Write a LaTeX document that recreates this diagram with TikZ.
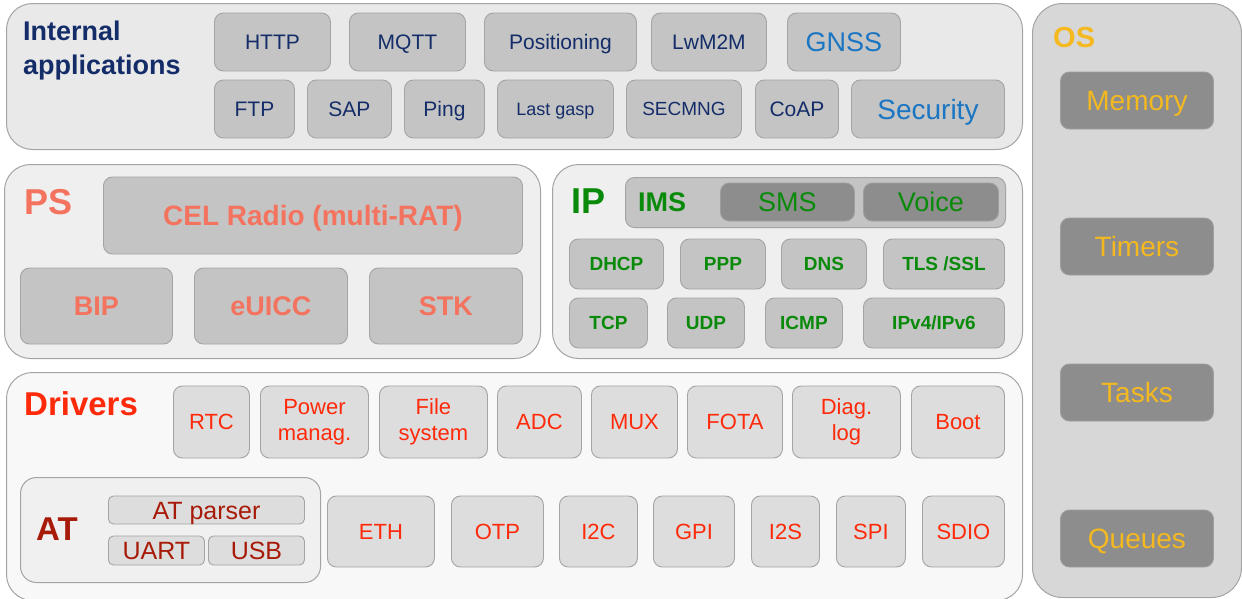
\documentclass[tikz,border=0pt]{standalone}
\usepackage{fontspec}
\setmainfont{Liberation Sans}
\usepackage{xcolor}
\usetikzlibrary{positioning}
\definecolor{navy}{HTML}{142D69}
\definecolor{gblue}{HTML}{1A75C2}
\definecolor{salmon}{HTML}{F4735F}
\definecolor{ipgreen}{HTML}{0A8A0A}
\definecolor{drvred}{HTML}{FF2A0A}
\definecolor{atred}{HTML}{A81A08}
\definecolor{osyel}{HTML}{F5B920}
\definecolor{edgegray}{HTML}{A4A4A4}
\definecolor{appbg}{HTML}{E9E9E9}
\definecolor{psbg}{HTML}{EFEFEF}
\definecolor{drvbg}{HTML}{F8F8F8}
\definecolor{atbg}{HTML}{F0F0F0}
\definecolor{osbg}{HTML}{D7D7D7}
\definecolor{midfill}{HTML}{C4C4C4}
\definecolor{lightfill}{HTML}{DDDDDD}
\definecolor{darkfill}{HTML}{8D8D8D}
\tikzset{
  grp/.style={draw=edgegray,line width=1pt,rounded corners=26pt,inner sep=0pt,anchor=north west},
  blk/.style={draw=edgegray,line width=0.9pt,rounded corners=9pt,inner sep=0pt,align=center,anchor=west},
  capht/.style={text height=#1,text depth=0pt},
  ttl/.style={anchor=base west,inner sep=0pt},
}
\begin{document}
\begin{tikzpicture}[x=1pt,y=-1pt,
   appbk/.style={blk,capht=15pt,fill=midfill,minimum height=58pt,text=navy,font=\fontsize{21}{25}\selectfont},
   psbk/.style={blk,capht=19.5pt,fill=midfill,text=salmon,font=\bfseries\fontsize{27}{30}\selectfont},
   ipbk/.style={blk,capht=13.6pt,fill=midfill,minimum height=50pt,text=ipgreen,font=\bfseries\fontsize{19}{22}\selectfont},
   drvbk/.style={blk,fill=lightfill,text=drvred,font=\fontsize{22}{26}\selectfont},
   atbk/.style={blk,capht=18pt,fill=lightfill,rounded corners=5pt,text=atred,font=\fontsize{25}{27}\selectfont},
   osbk/.style={blk,capht=20pt,fill=darkfill,draw=darkfill!85!white,minimum width=153pt,minimum height=57pt,text=osyel,font=\fontsize{28}{30}\selectfont}]
  \useasboundingbox (0,0) rectangle (1242,598);
  \node[grp,fill=appbg,minimum width=1016pt,minimum height=146pt] (apps) at (6,3) {};
  \node[ttl,anchor=north west,align=left,text=navy,font=\bfseries\fontsize{27}{34}\selectfont] (appsttl) at (23,21) {Internal\\applications};
  \foreach \x/\w/\n/\t in {214/116/http/HTTP,349/116/mqtt/MQTT,484/152/posn/Positioning,651/115/lwm/LwM2M}
    \node[appbk,minimum width=\w pt] (\n) at (\x,42) {\t};
  \node[appbk,capht=19.5pt,minimum width=113pt,text=gblue,font=\fontsize{27}{30}\selectfont] (gnss) at (787,42) {GNSS};
  \foreach \x/\w/\n/\t in {214/80/ftp/FTP,307/84/sap/SAP,404/80/ping/Ping,755/83/coap/CoAP}
    \node[appbk,minimum width=\w pt] (\n) at (\x,109) {\t};
  \node[appbk,capht=13pt,minimum width=116pt,font=\fontsize{18}{22}\selectfont] (lgasp) at (497,109) {Last gasp};
  \node[appbk,capht=13.6pt,minimum width=115pt,font=\fontsize{19}{22}\selectfont] (secmng) at (626,109) {SECMNG};
  \node[appbk,capht=20pt,minimum width=153pt,text=gblue,font=\fontsize{28}{30}\selectfont] (secur) at (851,109) {Security};

  \node[grp,fill=psbg,minimum width=536pt,minimum height=194pt] (ps) at (4,164) {};
  \node[ttl,text=salmon,font=\bfseries\fontsize{36}{40}\selectfont] (psttl) at (24,214) {PS};
  \node[psbk,capht=20pt,minimum width=419pt,minimum height=77pt,font=\bfseries\fontsize{28}{30}\selectfont] (celr) at (103,215.5) {CEL Radio (multi-RAT)};
  \foreach \x/\w/\n/\t in {20/152/bip/BIP,194/153/euicc/eUICC,369/153/stk/STK}
    \node[psbk,minimum width=\w pt,minimum height=76pt] (\n) at (\x,306) {\t};

  \node[grp,fill=psbg,minimum width=470pt,minimum height=194pt] (ip) at (552,164) {};
  \node[ttl,text=ipgreen,font=\bfseries\fontsize{36}{40}\selectfont] (ipttl) at (571,213) {IP};
  \node[grp,fill=midfill,rounded corners=9pt,minimum width=380pt,minimum height=50pt] (ims) at (625,177) {};
  \node[ttl,text=ipgreen,font=\bfseries\fontsize{27}{30}\selectfont] (imsttl) at (638,211) {IMS};
  \node[ipbk,capht=19.5pt,fill=darkfill,draw=darkfill!85!white,minimum width=134pt,minimum height=38pt,font=\fontsize{27}{30}\selectfont] (sms) at (720,202) {SMS};
  \node[ipbk,capht=19.5pt,fill=darkfill,draw=darkfill!85!white,minimum width=135pt,minimum height=38pt,font=\fontsize{27}{30}\selectfont] (voice) at (863,202) {Voice};
  \foreach \x/\w/\n/\t in {569/94/dhcp/DHCP,680/85/ppp/PPP,781/85/dns/DNS,883/121/tls/{TLS /SSL}}
    \node[ipbk,minimum width=\w pt] (\n) at (\x,264) {\t};
  \foreach \x/\w/\n/\t in {569/78/tcp/TCP,667/77/udp/UDP,765/77/icmp/ICMP,863/141/ipv/{IPv4/IPv6}}
    \node[ipbk,minimum width=\w pt] (\n) at (\x,323) {\t};

  \node[grp,fill=drvbg,minimum width=1016pt,minimum height=228pt] (drv) at (6,372) {};
  \node[ttl,text=drvred,font=\bfseries\fontsize{33}{36}\selectfont] (drvttl) at (24,415) {Drivers};
  \foreach \x/\w/\n/\t in {173/76/rtc/RTC,260/108/pwr/Power\\manag.,379/108/fsys/File\\system,497/84/adc/ADC,591/86/mux/MUX,687/95/fota/FOTA,792/108/diag/Diag.\\log,911/93/boot/Boot}
    \node[drvbk,minimum width=\w pt,minimum height=72pt] (\n) at (\x,422) {\t};
  \foreach \x/\w/\n/\t in {327/107/eth/ETH,451/92/otp/OTP,559/78/itc/I2C,653/81/gpi/GPI,751/68/its/I2S,836/69/spi/SPI,922/82/sdio/SDIO}
    \node[drvbk,minimum width=\w pt,minimum height=71pt] (\n) at (\x,531.5) {\t};

  \node[grp,fill=atbg,rounded corners=16pt,minimum width=300pt,minimum height=105pt] (at) at (20,477) {};
  \node[ttl,text=atred,font=\bfseries\fontsize{33}{36}\selectfont] (atttl) at (36,540) {AT};
  \node[atbk,minimum width=196pt,minimum height=28pt] (atpar) at (108,510) {AT parser};
  \node[atbk,minimum width=96pt,minimum height=29pt] (uart) at (108,550.5) {UART};
  \node[atbk,minimum width=96pt,minimum height=29pt] (usb) at (208,550.5) {USB};

  \node[grp,fill=osbg,rounded corners=30pt,minimum width=209pt,minimum height=594pt] (os) at (1032,3) {};
  \node[ttl,text=osyel,font=\bfseries\fontsize{29}{32}\selectfont] (osttl) at (1053,47) {OS};
  \foreach \y/\n/\t in {100.5/mem/Memory,246.5/tmr/Timers,392.5/tsk/Tasks,538.5/que/Queues}
    \node[osbk] (\n) at (1060,\y) {\t};
\end{tikzpicture}
\end{document}
